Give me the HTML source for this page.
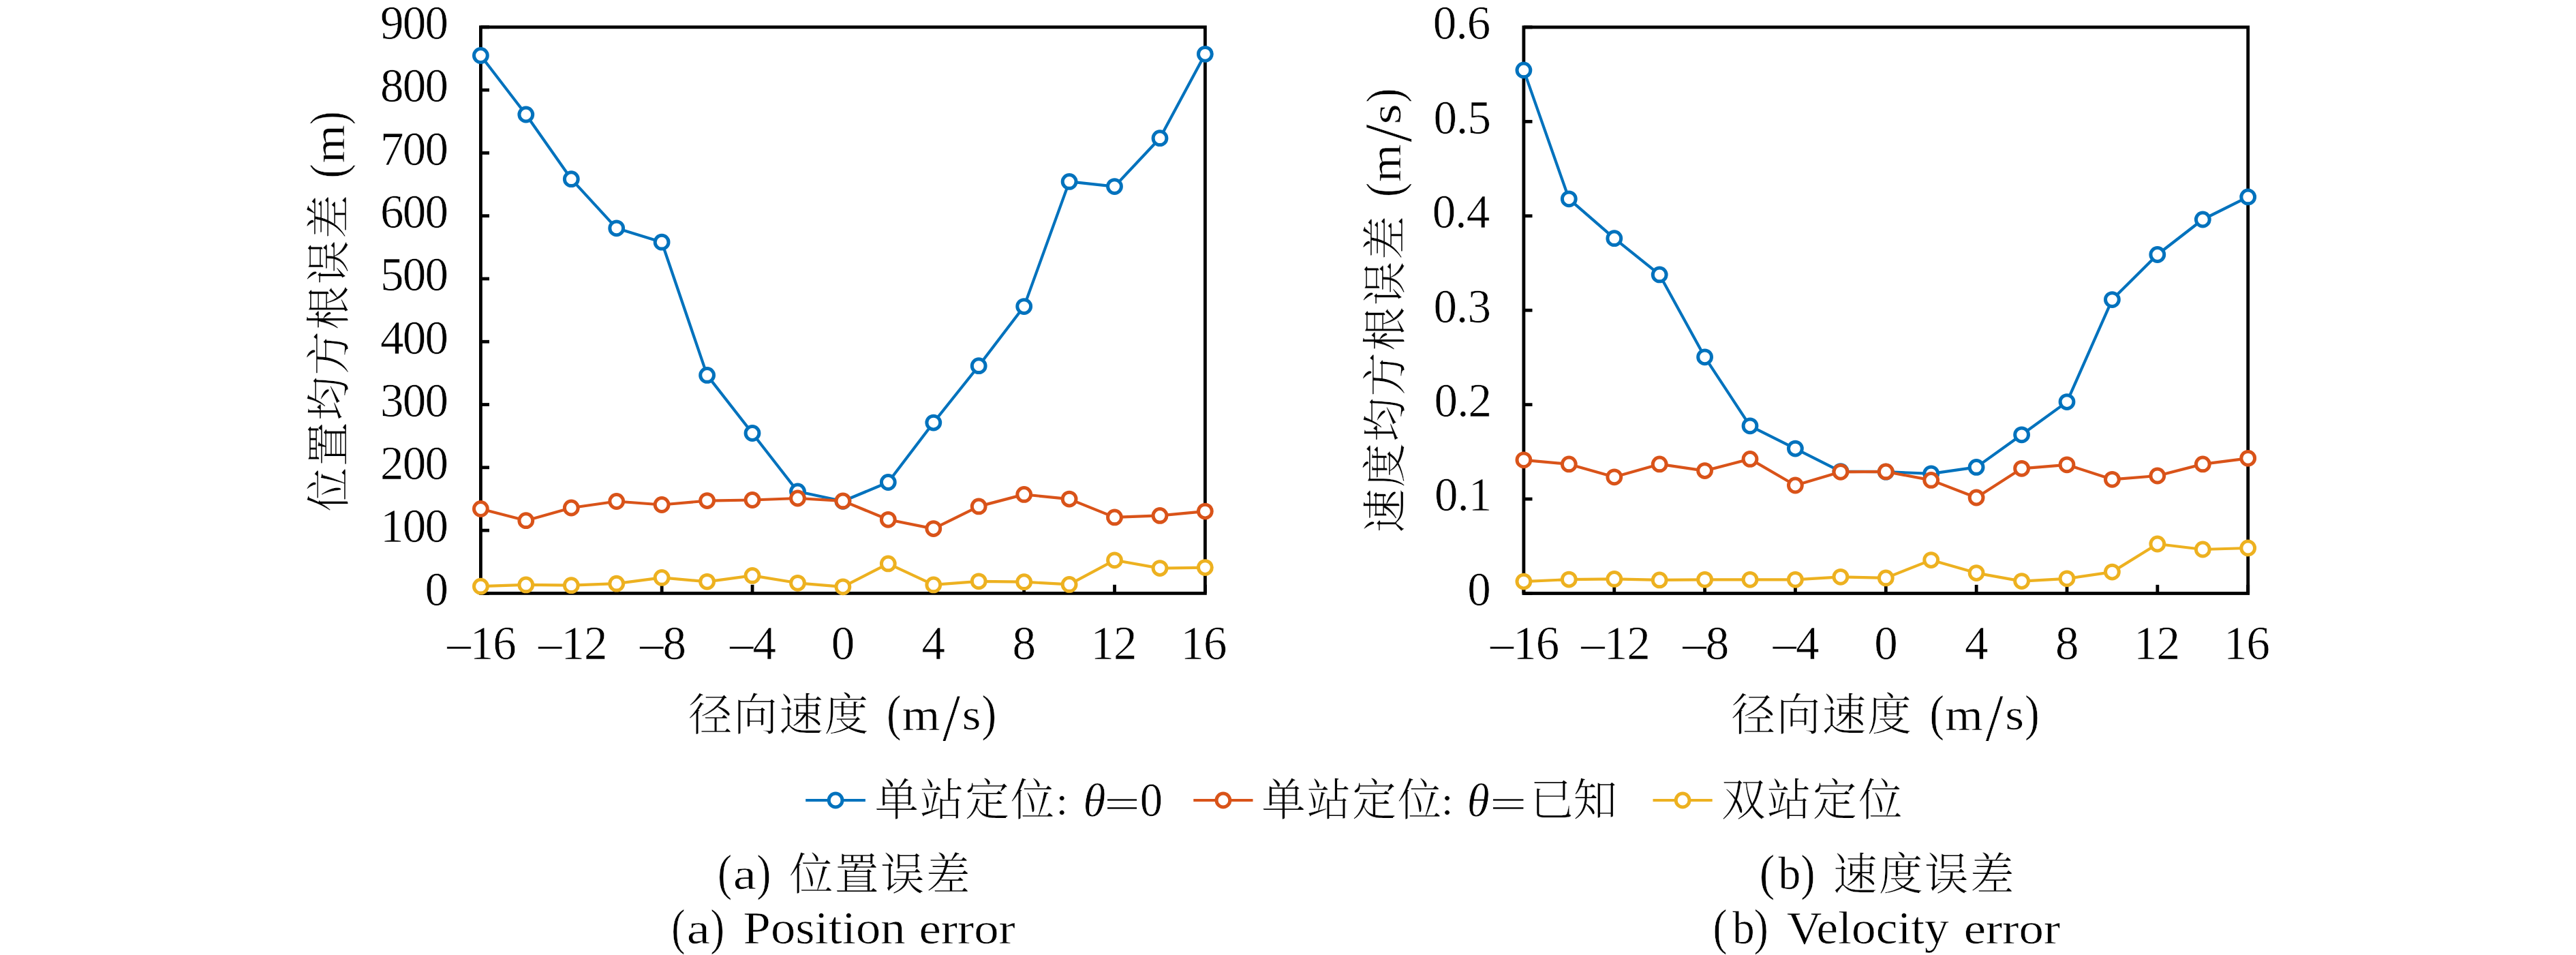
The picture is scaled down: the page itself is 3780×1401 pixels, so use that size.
<!DOCTYPE html>
<html lang="zh">
<head>
<meta charset="utf-8">
<title>Position and velocity error</title>
<style>
html,body{margin:0;padding:0;background:#fff;}
svg{display:block;}
text{font-family:"Liberation Serif", serif;fill:#000;stroke:#fff;stroke-width:0.6px;}
text.c{font-family:"Liberation Serif", "Noto Serif CJK SC", serif;stroke-width:0.25px;}
</style>
</head>
<body>
<svg width="3780" height="1401" viewBox="0 0 3780 1401">
<title>位置误差与速度误差</title>
<desc>位置均方根误差 (m) 速度均方根误差 (m/s) 径向速度 (m/s) 单站定位: θ=0 单站定位: θ=已知 双站定位 (a) 位置误差 (a) Position error (b) 速度误差 (b) Velocity error</desc>
<rect width="3780" height="1401" fill="#fff"/>
<g stroke="#000" stroke-width="4.8" fill="none"><line x1="705.40" y1="870.40" x2="705.40" y2="857.80"/><line x1="838.27" y1="870.40" x2="838.27" y2="857.80"/><line x1="971.15" y1="870.40" x2="971.15" y2="857.80"/><line x1="1104.03" y1="870.40" x2="1104.03" y2="857.80"/><line x1="1236.90" y1="870.40" x2="1236.90" y2="857.80"/><line x1="1369.78" y1="870.40" x2="1369.78" y2="857.80"/><line x1="1502.65" y1="870.40" x2="1502.65" y2="857.80"/><line x1="1635.53" y1="870.40" x2="1635.53" y2="857.80"/><line x1="1768.40" y1="870.40" x2="1768.40" y2="857.80"/><line x1="705.40" y1="870.40" x2="718.00" y2="870.40"/><line x1="705.40" y1="778.11" x2="718.00" y2="778.11"/><line x1="705.40" y1="685.82" x2="718.00" y2="685.82"/><line x1="705.40" y1="593.53" x2="718.00" y2="593.53"/><line x1="705.40" y1="501.24" x2="718.00" y2="501.24"/><line x1="705.40" y1="408.96" x2="718.00" y2="408.96"/><line x1="705.40" y1="316.67" x2="718.00" y2="316.67"/><line x1="705.40" y1="224.38" x2="718.00" y2="224.38"/><line x1="705.40" y1="132.09" x2="718.00" y2="132.09"/><line x1="705.40" y1="39.80" x2="718.00" y2="39.80"/><rect x="705.40" y="39.80" width="1063.00" height="830.60"/></g>
<g stroke="#0072BD" fill="#fff"><polyline points="705.4,81.5 771.8,168.0 838.3,262.7 904.7,334.8 971.1,355.2 1037.6,550.4 1104.0,635.5 1170.5,721.0 1236.9,735.3 1303.3,707.5 1369.8,620.1 1436.2,536.7 1502.7,449.6 1569.1,266.4 1635.5,273.6 1702.0,202.7 1768.4,79.3" fill="none" stroke-width="4.2" stroke-linejoin="round"/><g stroke-width="5.0"><circle cx="705.4" cy="81.5" r="9.9"/><circle cx="771.8" cy="168.0" r="9.9"/><circle cx="838.3" cy="262.7" r="9.9"/><circle cx="904.7" cy="334.8" r="9.9"/><circle cx="971.1" cy="355.2" r="9.9"/><circle cx="1037.6" cy="550.4" r="9.9"/><circle cx="1104.0" cy="635.5" r="9.9"/><circle cx="1170.5" cy="721.0" r="9.9"/><circle cx="1236.9" cy="735.3" r="9.9"/><circle cx="1303.3" cy="707.5" r="9.9"/><circle cx="1369.8" cy="620.1" r="9.9"/><circle cx="1436.2" cy="536.7" r="9.9"/><circle cx="1502.7" cy="449.6" r="9.9"/><circle cx="1569.1" cy="266.4" r="9.9"/><circle cx="1635.5" cy="273.6" r="9.9"/><circle cx="1702.0" cy="202.7" r="9.9"/><circle cx="1768.4" cy="79.3" r="9.9"/></g></g>
<g stroke="#D95319" fill="#fff"><polyline points="705.4,746.5 771.8,763.7 838.3,745.0 904.7,735.5 971.1,740.5 1037.6,734.6 1104.0,733.5 1170.5,731.0 1236.9,734.9 1303.3,762.3 1369.8,775.6 1436.2,742.9 1502.7,725.4 1569.1,732.1 1635.5,758.9 1702.0,756.4 1768.4,750.1" fill="none" stroke-width="4.2" stroke-linejoin="round"/><g stroke-width="5.0"><circle cx="705.4" cy="746.5" r="9.9"/><circle cx="771.8" cy="763.7" r="9.9"/><circle cx="838.3" cy="745.0" r="9.9"/><circle cx="904.7" cy="735.5" r="9.9"/><circle cx="971.1" cy="740.5" r="9.9"/><circle cx="1037.6" cy="734.6" r="9.9"/><circle cx="1104.0" cy="733.5" r="9.9"/><circle cx="1170.5" cy="731.0" r="9.9"/><circle cx="1236.9" cy="734.9" r="9.9"/><circle cx="1303.3" cy="762.3" r="9.9"/><circle cx="1369.8" cy="775.6" r="9.9"/><circle cx="1436.2" cy="742.9" r="9.9"/><circle cx="1502.7" cy="725.4" r="9.9"/><circle cx="1569.1" cy="732.1" r="9.9"/><circle cx="1635.5" cy="758.9" r="9.9"/><circle cx="1702.0" cy="756.4" r="9.9"/><circle cx="1768.4" cy="750.1" r="9.9"/></g></g>
<g stroke="#EDB120" fill="#fff"><polyline points="705.4,860.2 771.8,857.9 838.3,858.7 904.7,856.2 971.1,847.4 1037.6,853.3 1104.0,844.4 1170.5,855.3 1236.9,860.8 1303.3,826.9 1369.8,857.9 1436.2,852.8 1502.7,853.7 1569.1,857.4 1635.5,821.8 1702.0,833.6 1768.4,832.6" fill="none" stroke-width="4.2" stroke-linejoin="round"/><g stroke-width="5.0"><circle cx="705.4" cy="860.2" r="9.9"/><circle cx="771.8" cy="857.9" r="9.9"/><circle cx="838.3" cy="858.7" r="9.9"/><circle cx="904.7" cy="856.2" r="9.9"/><circle cx="971.1" cy="847.4" r="9.9"/><circle cx="1037.6" cy="853.3" r="9.9"/><circle cx="1104.0" cy="844.4" r="9.9"/><circle cx="1170.5" cy="855.3" r="9.9"/><circle cx="1236.9" cy="860.8" r="9.9"/><circle cx="1303.3" cy="826.9" r="9.9"/><circle cx="1369.8" cy="857.9" r="9.9"/><circle cx="1436.2" cy="852.8" r="9.9"/><circle cx="1502.7" cy="853.7" r="9.9"/><circle cx="1569.1" cy="857.4" r="9.9"/><circle cx="1635.5" cy="821.8" r="9.9"/><circle cx="1702.0" cy="833.6" r="9.9"/><circle cx="1768.4" cy="832.6" r="9.9"/></g></g>
<text x="623.59" y="887.70" font-size="69.0" letter-spacing="-1.75">0</text>
<text x="558.09" y="795.41" font-size="69.0" letter-spacing="-1.75">100</text>
<text x="558.09" y="703.12" font-size="69.0" letter-spacing="-1.75">200</text>
<text x="558.09" y="610.83" font-size="69.0" letter-spacing="-1.75">300</text>
<text x="558.09" y="518.54" font-size="69.0" letter-spacing="-1.75">400</text>
<text x="558.09" y="426.26" font-size="69.0" letter-spacing="-1.75">500</text>
<text x="558.09" y="333.97" font-size="69.0" letter-spacing="-1.75">600</text>
<text x="558.09" y="241.68" font-size="69.0" letter-spacing="-1.75">700</text>
<text x="558.09" y="149.39" font-size="69.0" letter-spacing="-1.75">800</text>
<text x="558.09" y="57.10" font-size="69.0" letter-spacing="-1.75">900</text>
<text x="656.14" y="967.40" font-size="69.0" letter-spacing="-1.0">–16</text>
<text x="789.88" y="967.40" font-size="69.0" letter-spacing="-1.0">–12</text>
<text x="938.90" y="967.40" font-size="69.0" letter-spacing="-1.0">–8</text>
<text x="1071.00" y="967.40" font-size="69.0" letter-spacing="-1.0">–4</text>
<text x="1219.85" y="967.40" font-size="69.0" letter-spacing="-1.0">0</text>
<text x="1352.55" y="967.40" font-size="69.0" letter-spacing="-1.0">4</text>
<text x="1485.60" y="967.40" font-size="69.0" letter-spacing="-1.0">8</text>
<text x="1600.60" y="967.40" font-size="69.0" letter-spacing="-1.0">12</text>
<text x="1732.62" y="967.40" font-size="69.0" letter-spacing="-1.0">16</text>
<g stroke="#000" stroke-width="4.8" fill="none"><line x1="2235.90" y1="870.50" x2="2235.90" y2="857.90"/><line x1="2368.75" y1="870.50" x2="2368.75" y2="857.90"/><line x1="2501.60" y1="870.50" x2="2501.60" y2="857.90"/><line x1="2634.45" y1="870.50" x2="2634.45" y2="857.90"/><line x1="2767.30" y1="870.50" x2="2767.30" y2="857.90"/><line x1="2900.15" y1="870.50" x2="2900.15" y2="857.90"/><line x1="3033.00" y1="870.50" x2="3033.00" y2="857.90"/><line x1="3165.85" y1="870.50" x2="3165.85" y2="857.90"/><line x1="3298.70" y1="870.50" x2="3298.70" y2="857.90"/><line x1="2235.90" y1="870.50" x2="2248.50" y2="870.50"/><line x1="2235.90" y1="732.07" x2="2248.50" y2="732.07"/><line x1="2235.90" y1="593.63" x2="2248.50" y2="593.63"/><line x1="2235.90" y1="455.20" x2="2248.50" y2="455.20"/><line x1="2235.90" y1="316.77" x2="2248.50" y2="316.77"/><line x1="2235.90" y1="178.33" x2="2248.50" y2="178.33"/><line x1="2235.90" y1="39.90" x2="2248.50" y2="39.90"/><rect x="2235.90" y="39.90" width="1062.80" height="830.60"/></g>
<g stroke="#0072BD" fill="#fff"><polyline points="2235.9,102.9 2302.3,291.8 2368.8,349.7 2435.2,402.9 2501.6,523.8 2568.0,624.8 2634.4,658.1 2700.9,691.6 2767.3,692.2 2833.7,694.8 2900.1,685.4 2966.6,637.8 3033.0,589.6 3099.4,439.6 3165.8,373.5 3232.3,322.0 3298.7,288.9" fill="none" stroke-width="4.2" stroke-linejoin="round"/><g stroke-width="5.0"><circle cx="2235.9" cy="102.9" r="9.9"/><circle cx="2302.3" cy="291.8" r="9.9"/><circle cx="2368.8" cy="349.7" r="9.9"/><circle cx="2435.2" cy="402.9" r="9.9"/><circle cx="2501.6" cy="523.8" r="9.9"/><circle cx="2568.0" cy="624.8" r="9.9"/><circle cx="2634.4" cy="658.1" r="9.9"/><circle cx="2700.9" cy="691.6" r="9.9"/><circle cx="2767.3" cy="692.2" r="9.9"/><circle cx="2833.7" cy="694.8" r="9.9"/><circle cx="2900.1" cy="685.4" r="9.9"/><circle cx="2966.6" cy="637.8" r="9.9"/><circle cx="3033.0" cy="589.6" r="9.9"/><circle cx="3099.4" cy="439.6" r="9.9"/><circle cx="3165.8" cy="373.5" r="9.9"/><circle cx="3232.3" cy="322.0" r="9.9"/><circle cx="3298.7" cy="288.9" r="9.9"/></g></g>
<g stroke="#D95319" fill="#fff"><polyline points="2235.9,674.8 2302.3,680.9 2368.8,699.8 2435.2,680.9 2501.6,690.6 2568.0,673.4 2634.4,712.0 2700.9,692.3 2767.3,691.9 2833.7,704.4 2900.1,730.0 2966.6,687.3 3033.0,681.8 3099.4,703.3 3165.8,698.0 3232.3,680.9 3298.7,672.3" fill="none" stroke-width="4.2" stroke-linejoin="round"/><g stroke-width="5.0"><circle cx="2235.9" cy="674.8" r="9.9"/><circle cx="2302.3" cy="680.9" r="9.9"/><circle cx="2368.8" cy="699.8" r="9.9"/><circle cx="2435.2" cy="680.9" r="9.9"/><circle cx="2501.6" cy="690.6" r="9.9"/><circle cx="2568.0" cy="673.4" r="9.9"/><circle cx="2634.4" cy="712.0" r="9.9"/><circle cx="2700.9" cy="692.3" r="9.9"/><circle cx="2767.3" cy="691.9" r="9.9"/><circle cx="2833.7" cy="704.4" r="9.9"/><circle cx="2900.1" cy="730.0" r="9.9"/><circle cx="2966.6" cy="687.3" r="9.9"/><circle cx="3033.0" cy="681.8" r="9.9"/><circle cx="3099.4" cy="703.3" r="9.9"/><circle cx="3165.8" cy="698.0" r="9.9"/><circle cx="3232.3" cy="680.9" r="9.9"/><circle cx="3298.7" cy="672.3" r="9.9"/></g></g>
<g stroke="#EDB120" fill="#fff"><polyline points="2235.9,853.1 2302.3,850.1 2368.8,849.4 2435.2,850.9 2501.6,850.3 2568.0,850.3 2634.4,850.3 2700.9,846.3 2767.3,847.9 2833.7,821.6 2900.1,840.6 2966.6,852.6 3033.0,848.8 3099.4,839.1 3165.8,798.0 3232.3,806.0 3298.7,804.0" fill="none" stroke-width="4.2" stroke-linejoin="round"/><g stroke-width="5.0"><circle cx="2235.9" cy="853.1" r="9.9"/><circle cx="2302.3" cy="850.1" r="9.9"/><circle cx="2368.8" cy="849.4" r="9.9"/><circle cx="2435.2" cy="850.9" r="9.9"/><circle cx="2501.6" cy="850.3" r="9.9"/><circle cx="2568.0" cy="850.3" r="9.9"/><circle cx="2634.4" cy="850.3" r="9.9"/><circle cx="2700.9" cy="846.3" r="9.9"/><circle cx="2767.3" cy="847.9" r="9.9"/><circle cx="2833.7" cy="821.6" r="9.9"/><circle cx="2900.1" cy="840.6" r="9.9"/><circle cx="2966.6" cy="852.6" r="9.9"/><circle cx="3033.0" cy="848.8" r="9.9"/><circle cx="3099.4" cy="839.1" r="9.9"/><circle cx="3165.8" cy="798.0" r="9.9"/><circle cx="3232.3" cy="806.0" r="9.9"/><circle cx="3298.7" cy="804.0" r="9.9"/></g></g>
<text x="2153.29" y="887.80" font-size="69.0" letter-spacing="-0.9">0</text>
<text x="2104.89" y="749.37" font-size="69.0" letter-spacing="-0.9">0.1</text>
<text x="2104.54" y="610.93" font-size="69.0" letter-spacing="-0.9">0.2</text>
<text x="2103.51" y="472.50" font-size="69.0" letter-spacing="-0.9">0.3</text>
<text x="2101.78" y="334.07" font-size="69.0" letter-spacing="-0.9">0.4</text>
<text x="2103.51" y="195.63" font-size="69.0" letter-spacing="-0.9">0.5</text>
<text x="2102.82" y="57.20" font-size="69.0" letter-spacing="-0.9">0.6</text>
<text x="2186.64" y="967.40" font-size="69.0" letter-spacing="-1.0">–16</text>
<text x="2320.36" y="967.40" font-size="69.0" letter-spacing="-1.0">–12</text>
<text x="2469.35" y="967.40" font-size="69.0" letter-spacing="-1.0">–8</text>
<text x="2601.43" y="967.40" font-size="69.0" letter-spacing="-1.0">–4</text>
<text x="2750.25" y="967.40" font-size="69.0" letter-spacing="-1.0">0</text>
<text x="2882.93" y="967.40" font-size="69.0" letter-spacing="-1.0">4</text>
<text x="3015.95" y="967.40" font-size="69.0" letter-spacing="-1.0">8</text>
<text x="3130.93" y="967.40" font-size="69.0" letter-spacing="-1.0">12</text>
<text x="3262.92" y="967.40" font-size="69.0" letter-spacing="-1.0">16</text>
<text x="1010.00 1076.60 1143.20 1209.80" y="1071.00" font-size="64.5" class="c" font-weight="300">径向速度</text>
<text transform="translate(1300.96,1071.01) scale(0.8954,1.0254)" font-size="72.0">(</text>
<text transform="translate(1323.67,1070.70) scale(1.0674,0.9654)" font-size="67.0">m</text>
<text transform="translate(1382.90,1085.70) scale(1.1757,1.2500)" font-size="80.0">/</text>
<text transform="translate(1411.75,1070.07) scale(1.0651,0.9453)" font-size="67.0">s</text>
<text transform="translate(1440.38,1071.01) scale(0.9061,1.0254)" font-size="72.0">)</text>
<text x="2540.50 2607.10 2673.70 2740.30" y="1071.00" font-size="64.5" class="c" font-weight="300">径向速度</text>
<text transform="translate(2831.46,1071.01) scale(0.8954,1.0254)" font-size="72.0">(</text>
<text transform="translate(2854.17,1070.70) scale(1.0674,0.9654)" font-size="67.0">m</text>
<text transform="translate(2913.40,1085.70) scale(1.1757,1.2500)" font-size="80.0">/</text>
<text transform="translate(2942.25,1070.07) scale(1.0651,0.9453)" font-size="67.0">s</text>
<text transform="translate(2970.88,1071.01) scale(0.9061,1.0254)" font-size="72.0">)</text>
<g transform="translate(504.50,750.50) rotate(-90)"><text x="0.00 66.70 133.40 200.10 266.80 333.50 400.20" y="0.00" font-size="64.5" class="c" font-weight="300">位置均方根误差</text><text transform="translate(489.01,1.01) scale(0.8792,1.0254)" font-size="72.0">(</text><text transform="translate(511.36,0.70) scale(1.0774,0.9654)" font-size="67.0">m</text><text transform="translate(567.86,1.01) scale(0.7875,1.0254)" font-size="72.0">)</text></g>
<g transform="translate(2054.50,781.50) rotate(-90)"><text x="0.00 66.70 133.40 200.10 266.80 333.50 400.20" y="0.00" font-size="64.5" class="c" font-weight="300">速度均方根误差</text><text transform="translate(492.43,1.01) scale(0.8738,1.0254)" font-size="72.0">(</text><text transform="translate(514.78,0.70) scale(1.0573,0.9654)" font-size="67.0">m</text><text transform="translate(573.00,15.70) scale(1.1712,1.2500)" font-size="80.0">/</text><text transform="translate(599.08,0.07) scale(1.1654,0.9453)" font-size="67.0">s</text><text transform="translate(631.06,1.01) scale(0.8738,1.0254)" font-size="72.0">)</text></g>
<g stroke="#0072BD" fill="#fff"><line x1="1182.2" y1="1174.0" x2="1269.9" y2="1174.0" stroke-width="4.2"/><circle cx="1226.1" cy="1174.0" r="9.9" stroke-width="5.0"/></g>
<text x="1283.50 1349.90 1416.30 1482.70" y="1195.60" font-size="64.5" class="c" font-weight="300">单站定位</text>
<text transform="translate(1549.49,1195.31) scale(0.9527,0.8863)" font-size="67.0">:</text>
<text transform="translate(1589.61,1196.60) scale(1.0021,1)" font-size="67.0" font-style="italic">θ</text>
<text transform="translate(1620.09,1199.98) scale(1.4059,0.9194)" font-size="67.0">=</text>
<text transform="translate(1672.70,1196.90) scale(0.9650,1)" font-size="69.0">0</text>
<g stroke="#D95319" fill="#fff"><line x1="1751.3" y1="1174.0" x2="1838.5" y2="1174.0" stroke-width="4.2"/><circle cx="1794.9" cy="1174.0" r="9.9" stroke-width="5.0"/></g>
<text x="1851.20 1917.70 1984.20 2050.70" y="1195.60" font-size="64.5" class="c" font-weight="300">单站定位</text>
<text transform="translate(2114.79,1195.31) scale(0.9527,0.8863)" font-size="67.0">:</text>
<text transform="translate(2152.81,1196.60) scale(1.0021,1)" font-size="67.0" font-style="italic">θ</text>
<text transform="translate(2185.83,1199.98) scale(1.4540,0.9194)" font-size="67.0">=</text>
<text x="2245.00 2308.50" y="1195.60" font-size="64.5" class="c" font-weight="300">已知</text>
<g stroke="#EDB120" fill="#fff"><line x1="2425.5" y1="1174.0" x2="2512.7" y2="1174.0" stroke-width="4.2"/><circle cx="2469.1" cy="1174.0" r="9.9" stroke-width="5.0"/></g>
<text x="2526.00 2593.00 2660.00 2727.00" y="1195.60" font-size="64.5" class="c" font-weight="300">双站定位</text>
<text transform="translate(1053.01,1304.61) scale(0.8792,1.0254)" font-size="72.0">(</text>
<text transform="translate(1075.81,1303.67) scale(1.1487,0.9453)" font-size="67.0">a</text>
<text transform="translate(1110.14,1304.61) scale(0.8792,1.0254)" font-size="72.0">)</text>
<text x="1158.00 1225.00 1292.00 1359.00" y="1304.60" font-size="64.5" class="c" font-weight="300">位置误差</text>
<text transform="translate(985.21,1385.31) scale(0.8468,1.0254)" font-size="72.0">(</text>
<text transform="translate(1007.70,1384.37) scale(1.1525,0.9453)" font-size="67.0">a</text>
<text transform="translate(1042.27,1385.31) scale(0.8684,1.0254)" font-size="72.0">)</text>
<text transform="translate(1090.60,1384.30) scale(1.0828,1)" font-size="67.0">Position</text>
<text transform="translate(1348.39,1384.37) scale(1.0870,0.9453)" font-size="67.0">error</text>
<text transform="translate(2581.73,1304.61) scale(0.9385,1.0254)" font-size="72.0">(</text>
<text transform="translate(2609.60,1303.60) scale(0.9810,1)" font-size="67.0">b</text>
<text transform="translate(2642.23,1304.61) scale(0.8846,1.0254)" font-size="72.0">)</text>
<text x="2690.00 2757.00 2824.00 2891.00" y="1304.60" font-size="64.5" class="c" font-weight="300">速度误差</text>
<text transform="translate(2513.41,1385.31) scale(0.8792,1.0254)" font-size="72.0">(</text>
<text transform="translate(2542.20,1384.30) scale(0.9681,1)" font-size="67.0">b</text>
<text transform="translate(2573.84,1385.31) scale(0.8792,1.0254)" font-size="72.0">)</text>
<text transform="translate(2621.89,1384.30) scale(1.0654,1)" font-size="67.0">Velocity</text>
<text transform="translate(2881.69,1384.37) scale(1.0870,0.9453)" font-size="67.0">error</text>
</svg>
</body>
</html>
